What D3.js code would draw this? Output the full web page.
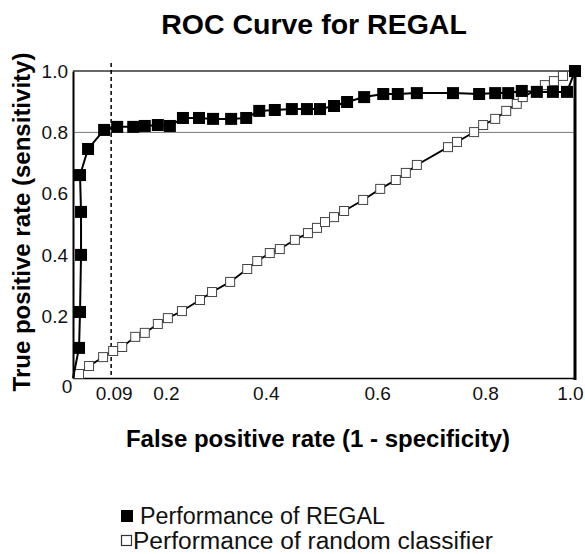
<!DOCTYPE html>
<html><head><meta charset="utf-8">
<script src="https://cdn.jsdelivr.net/npm/d3@7"></script>
<style>body{margin:0;background:#fff}svg{display:block;font-family:"Liberation Sans",Arial,sans-serif}</style>
</head><body><svg id="c" width="585" height="554"></svg>
<script>
// ---- data ----
const regalFpr = [0,0.012,0.014,0.016,0.016,0.014,0.030,0.062,0.088,0.120,0.143,0.169,0.193,0.219,0.251,0.279,0.315,0.345,0.371,0.402,0.436,0.466,0.492,0.520,0.546,0.580,0.618,0.647,0.685,0.757,0.809,0.841,0.867,0.894,0.924,0.956,0.984,1.0];
const regalTpr = [0,0.098,0.215,0.401,0.541,0.661,0.746,0.808,0.818,0.818,0.821,0.824,0.821,0.847,0.847,0.844,0.844,0.847,0.870,0.873,0.876,0.876,0.876,0.886,0.899,0.915,0.925,0.925,0.928,0.928,0.925,0.928,0.928,0.935,0.932,0.932,0.932,1.0];
const randFpr = [0,0.012,0.032,0.060,0.080,0.098,0.124,0.143,0.169,0.189,0.217,0.253,0.277,0.313,0.347,0.367,0.392,0.412,0.442,0.468,0.486,0.502,0.520,0.540,0.578,0.612,0.643,0.663,0.685,0.747,0.765,0.799,0.817,0.841,0.863,0.884,0.896,0.940,0.958,0.976];
const randTpr = [0,0.013,0.039,0.068,0.088,0.101,0.134,0.147,0.176,0.195,0.218,0.254,0.280,0.313,0.355,0.381,0.407,0.420,0.450,0.472,0.489,0.508,0.524,0.544,0.580,0.616,0.645,0.668,0.694,0.752,0.769,0.801,0.824,0.844,0.870,0.893,0.915,0.954,0.967,0.984];
const xTickLabels = ["0.09","0.2","0.4","0.6","0.8","1.0"];
const xTickAt = [0.081,0.185,0.384,0.606,0.821,0.990];
const yTickValues = [0.2,0.4,0.6,0.8,1.0];
const cutoffX = 0.076;
const refY = 0.8;
const title = "ROC Curve for REGAL";
const xTitle = "False positive rate (1 - specificity)";
const yTitle = "True positive rate (sensitivity)";
const legendLabels = ["Performance of REGAL","Performance of random classifier"];

// ---- chart ----
const svg = d3.select("#c");
const L=73,R=575,T=71,B=378;
const x = d3.scaleLinear().domain([0,1]).range([L,R]);
const y = d3.scaleLinear().domain([0,1]).range([B,T]);
const FF = "Liberation Sans, Arial, sans-serif";

// reference line at 0.8
svg.append("line").attr("x1",x(0)).attr("x2",x(1)).attr("y1",y(refY)).attr("y2",y(refY))
  .attr("stroke","#777").attr("stroke-width",1);
// top border
svg.append("line").attr("x1",x(0)).attr("x2",x(1)).attr("y1",y(1)).attr("y2",y(1))
  .attr("stroke","#333").attr("stroke-width",1.3);

// x axis
const xAxis = d3.axisBottom(x).tickValues(xTickAt).tickSize(0).tickPadding(9)
  .tickFormat((d,i)=>xTickLabels[i]);
const gx = svg.append("g").attr("transform",`translate(0,${B})`).call(xAxis);
gx.select(".domain").attr("stroke","#000").attr("stroke-width",1.5);
gx.selectAll("text").attr("font-size",19).attr("fill","#111").attr("font-family",FF);
// y axis
const yAxis = d3.axisLeft(y).tickValues(yTickValues).tickSize(0).tickPadding(5).tickFormat(d3.format(".1f"));
const gy = svg.append("g").attr("transform",`translate(${L},0)`).call(yAxis);
gy.select(".domain").attr("stroke","#000").attr("stroke-width",2);
gy.selectAll("text").attr("font-size",19).attr("fill","#111").attr("font-family",FF);
svg.append("text").attr("x",x(0)-6).attr("y",y(0)+15).attr("text-anchor","middle")
  .attr("font-size",19).attr("fill","#111").text("0");

// right thick border
svg.append("line").attr("x1",x(1)).attr("x2",x(1)).attr("y1",y(1)).attr("y2",y(0)+2)
  .attr("stroke","#000").attr("stroke-width",3);

// dashed cutoff line
svg.append("line").attr("x1",x(cutoffX)).attr("x2",x(cutoffX)).attr("y1",y(1)-8).attr("y2",y(0))
  .attr("stroke","#000").attr("stroke-width",1.5).attr("stroke-dasharray","4,3");

// random classifier
const randData = randFpr.map((f,i)=>[f,randTpr[i]]);
const line = d3.line().x(d=>x(d[0])).y(d=>y(d[1]));
svg.append("path").datum(randData).attr("d",line).attr("fill","none").attr("stroke","#000").attr("stroke-width",1.8);
svg.selectAll(".rs").data(randData.slice(1)).enter().append("rect")
  .attr("x",d=>x(d[0])-4.5).attr("y",d=>y(d[1])-4.5).attr("width",9).attr("height",9)
  .attr("fill","#fff").attr("stroke","#444").attr("stroke-width",1);

// REGAL
const regData = regalFpr.map((f,i)=>[f,regalTpr[i]]);
svg.append("path").datum(regData).attr("d",line).attr("fill","none").attr("stroke","#000").attr("stroke-width",2);
svg.selectAll(".bs").data(regData.slice(1)).enter().append("rect")
  .attr("x",d=>x(d[0])-6).attr("y",d=>y(d[1])-6).attr("width",12).attr("height",12)
  .attr("fill","#000");

// titles
svg.append("text").attr("x",314).attr("y",34).attr("text-anchor","middle")
  .attr("font-size",28.5).attr("font-weight","bold").text(title);
svg.append("text").attr("x",318).attr("y",447).attr("text-anchor","middle")
  .attr("font-size",24).attr("font-weight","bold").text(xTitle);
svg.append("text").attr("transform","translate(30,222) rotate(-90)").attr("text-anchor","middle")
  .attr("font-size",24).attr("font-weight","bold").text(yTitle);

// legend
const lg = svg.append("g");
lg.append("rect").attr("x",121).attr("y",510).attr("width",12).attr("height",12).attr("fill","#000");
lg.append("text").attr("x",140).attr("y",524).attr("font-size",23.5).attr("fill","#111")
  .attr("textLength",245).attr("lengthAdjust","spacingAndGlyphs").text(legendLabels[0]);
lg.append("rect").attr("x",121.5).attr("y",535.5).attr("width",10).attr("height",10).attr("fill","#fff").attr("stroke","#333").attr("stroke-width",1.2);
lg.append("text").attr("x",133).attr("y",549).attr("font-size",23.5).attr("fill","#111")
  .attr("textLength",360).attr("lengthAdjust","spacingAndGlyphs").text(legendLabels[1]);
</script></body></html>
